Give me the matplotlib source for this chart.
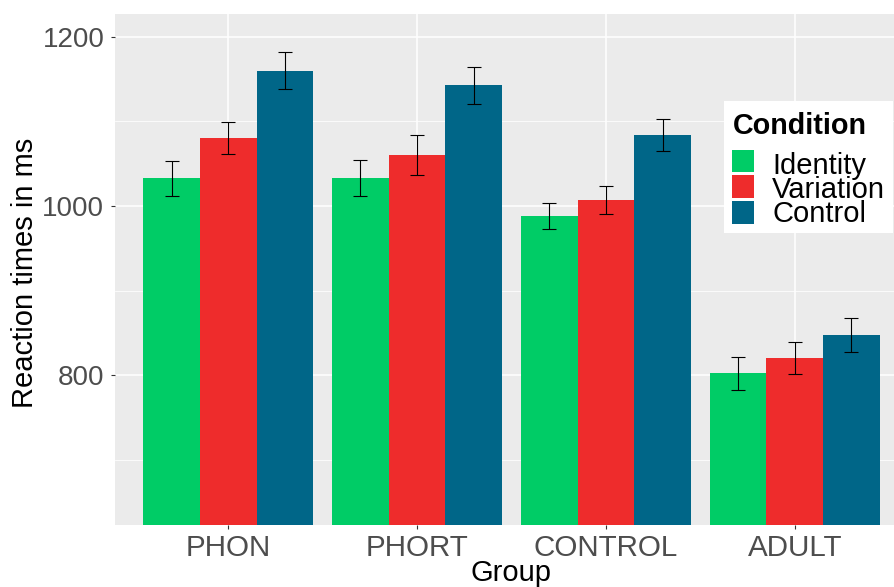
import matplotlib
matplotlib.use("Agg")
import matplotlib.pyplot as plt
from matplotlib.patches import Rectangle
import numpy as np

plt.rcParams["font.family"] = ["Liberation Sans", "DejaVu Sans"]

# Mean reaction times (ms) and error half-widths per group and condition
groups = ["PHON", "PHORT", "CONTROL", "ADULT"]
conditions = ["Identity", "Variation", "Control"]
colors = ["#00CC66", "#EE2C2C", "#006688"]

rt_identity = [1033, 1033, 988, 802]
rt_variation = [1080, 1060, 1007, 820]
rt_control = [1160, 1142.5, 1084, 847]

err_identity = [20.7, 21.4, 15.4, 19.5]
err_variation = [18.7, 24.0, 16.0, 19.0]
err_control = [21.5, 22.0, 19.0, 20.0]

means = [rt_identity, rt_variation, rt_control]
errors = [err_identity, err_variation, err_control]

W, H = 895, 587
fig = plt.figure(figsize=(W / 100, H / 100), dpi=100)
fig.patch.set_facecolor("white")

left, right, top, bottom = 115, 908, 13.5, 525.3
ax = fig.add_axes([left / W, 1 - bottom / H, (right - left) / W, (bottom - top) / H])
ax.set_facecolor("#EBEBEB")
for s in ax.spines.values():
    s.set_visible(False)

x = np.arange(len(groups))
bw = 0.3
for i, (m, e, c) in enumerate(zip(means, errors, colors)):
    pos = x + (i - 1) * bw
    ax.bar(pos, m, width=bw, color=c, linewidth=0, zorder=2)
    ax.errorbar(pos, m, yerr=e, fmt="none", ecolor="black", elinewidth=0.8,
                capsize=4.8, capthick=0.8, zorder=3)

ax.set_xlim(-0.6, len(groups) - 1 + 0.6)
ax.set_ylim(622.5, 1227.5)

ax.set_yticks([800, 1000, 1200])
ax.set_yticks([700, 900, 1100], minor=True)
ax.set_xticks(x)
ax.set_xticklabels(groups)

ax.grid(which="major", color="white", linewidth=1.1, zorder=0)
ax.grid(which="minor", axis="y", color="white", linewidth=0.55, zorder=0)
ax.set_axisbelow(True)

ax.tick_params(axis="both", which="major", color="#333333", length=2.7, width=0.8,
               labelcolor="#4D4D4D")
ax.tick_params(axis="y", which="major", labelsize=20, pad=5)
ax.tick_params(axis="x", which="major", labelsize=21.3, pad=3.5)
ax.tick_params(axis="y", which="minor", length=0)

ax.set_ylabel("Reaction times in ms", fontsize=21, color="black")
ax.yaxis.set_label_coords(25 / W, 1 - 273 / H, transform=fig.transFigure)
ax.yaxis.label.set_va("center")

ax.set_xlabel("Group", fontsize=21, color="black")
ax.xaxis.set_label_coords((left + right) / 2 / W, 1 - 581 / H, transform=fig.transFigure)
ax.xaxis.label.set_va("baseline")

# Legend box
tf = fig.transFigure
def fx(px):
    return px / W
def fy(py):
    return 1 - py / H

fig.patches.append(Rectangle((fx(724), fy(232.7)), fx(893) - fx(724), fy(101) - fy(232.7),
                             transform=tf, facecolor="white", edgecolor="none", zorder=5))
fig.text(fx(733), fy(134.3), "Condition", fontsize=20.7, fontweight="bold",
         ha="left", va="baseline", zorder=6)
key_tops = [149.5, 175, 201]
baselines = [173.5, 198, 222.5]
for lab, c, kt, bl in zip(conditions, colors, key_tops, baselines):
    fig.patches.append(Rectangle((fx(732.3), fy(kt + 23)), fx(754.3) - fx(732.3),
                                 fy(kt) - fy(kt + 23), transform=tf, facecolor=c,
                                 edgecolor="none", zorder=6))
    fig.text(fx(772.3), fy(bl), lab, fontsize=21, ha="left", va="baseline", zorder=6)

fig.savefig("out.png", dpi=100)
